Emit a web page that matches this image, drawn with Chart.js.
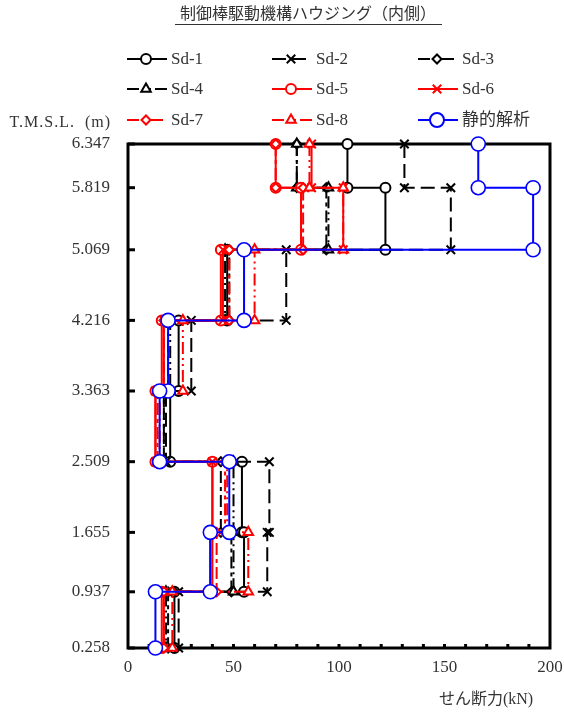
<!DOCTYPE html>
<html>
<head>
<meta charset="utf-8">
<style>
  body { margin: 0; background: #fff; }
  canvas { display: block; }
</style>
</head>
<body>
<canvas id="shearChart" width="564" height="713"></canvas>
<script src="https://cdn.jsdelivr.net/npm/chart.js"></script>
<script>
  // 節点標高 T.M.S.L.(m)
  const levels = [6.347, 5.819, 5.069, 4.216, 3.363, 2.509, 1.655, 0.937, 0.258];

  // 各要素のせん断力 (kN) 上の要素から順に
  const sd1 = [104, 122, 47, 24, 20, 54, 55, 22];
  const sd2 = [131, 153, 75, 30, 18, 67, 66, 24];
  const sd3 = [80, 94, 48, 19, 17, 44, 49, 19];
  const sd4 = [80, 95, 46, 20, 17, 50, 50, 18];
  const sd5 = [70, 82, 44, 16, 13, 40, 39, 16];
  const sd6 = [87, 102, 45, 17, 13, 40, 40, 17];
  const sd7 = [70, 83, 48, 17, 14, 46, 42, 17];
  const sd8 = [86, 102, 60, 26, 15, 47, 57, 21];
  const seisme = [166, 192, 55, 19, 15, 48, 39, 13];

  const seriesNames = ['Sd-1', 'Sd-2', 'Sd-3', 'Sd-4', 'Sd-5', 'Sd-6', 'Sd-7', 'Sd-8', '静的解析'];
  const seriesValues = [sd1, sd2, sd3, sd4, sd5, sd6, sd7, sd8, seisme];
  const xTicks = [0, 50, 100, 150, 200];

  const BLACK = '#000000', RED = '#ff0000', BLUE = '#0000ff';
  const styles = [
    { color: BLACK, point: 'circle',   r: 5,   dash: [] },
    { color: BLACK, point: 'crossRot', r: 6,   dash: [14, 6] },
    { color: BLACK, point: 'rectRot',  r: 4.5, dash: [12, 4, 4, 4] },
    { color: BLACK, point: 'triangle', r: 5.5, dash: [12, 4, 2, 4, 2, 4] },
    { color: RED,   point: 'circle',   r: 5,   dash: [] },
    { color: RED,   point: 'crossRot', r: 6,   dash: [] },
    { color: RED,   point: 'rectRot',  r: 4.5, dash: [12, 4, 4, 4] },
    { color: RED,   point: 'triangle', r: 5.5, dash: [12, 4, 2, 4, 2, 4] },
    { color: BLUE,  point: 'circle',   r: 7,   dash: [] }
  ];

  // 階段状の点列 (要素の上端・下端)
  function stepPoints(vals) {
    const pts = [];
    vals.forEach((v, i) => {
      pts.push({ x: v, y: levels[i] });
      pts.push({ x: v, y: levels[i + 1] });
    });
    return pts;
  }

  const datasets = seriesValues.map((vals, i) => ({
    label: seriesNames[i],
    data: stepPoints(vals),
    showLine: true,
    borderColor: styles[i].color,
    borderWidth: 2,
    borderDash: styles[i].dash,
    pointStyle: styles[i].point,
    pointRadius: styles[i].r,
    pointBorderColor: styles[i].color,
    pointBackgroundColor: '#ffffff',
    pointBorderWidth: i === 8 ? 1.6 : 2,
    clip: false,
    order: seriesValues.length - 1 - i
  }));

  const FONT = '"Liberation Serif", "Noto Sans CJK JP", serif';
  const TEXT = '#333333';

  function drawMarker(ctx, st, x, y) {
    ctx.save();
    ctx.setLineDash([]);
    ctx.strokeStyle = st.color;
    ctx.fillStyle = '#ffffff';
    ctx.lineWidth = 2;
    Chart.helpers.drawPoint(ctx, { pointStyle: st.point, radius: st.r, rotation: 0, borderWidth: 2 }, x, y);
    ctx.restore();
  }

  const decorations = {
    id: 'decorations',
    beforeDatasetsDraw(chart) {
      const { ctx, chartArea: a, scales } = chart;
      ctx.save();
      ctx.strokeStyle = '#000';
      ctx.lineWidth = 3;
      ctx.strokeRect(a.left, a.top, a.right - a.left, a.bottom - a.top);
      // 内向きの目盛
      levels.forEach(v => {
        const y = scales.y.getPixelForValue(v);
        ctx.beginPath();
        ctx.moveTo(a.left, y);
        ctx.lineTo(a.left + 7, y);
        ctx.stroke();
      });
      for (let v = 10; v < 200; v += 10) {
        const x = scales.x.getPixelForValue(v);
        ctx.beginPath();
        ctx.moveTo(x, a.bottom);
        ctx.lineTo(x, a.bottom - 4);
        ctx.stroke();
      }
      ctx.restore();
    },
    afterDraw(chart) {
      const { ctx } = chart;
      ctx.save();
      // タイトル
      ctx.fillStyle = TEXT;
      ctx.font = '16px ' + FONT;
      ctx.textAlign = 'center';
      ctx.textBaseline = 'middle';
      ctx.fillText('制御棒駆動機構ハウジング（内側）', 308, 15);
      ctx.strokeStyle = TEXT;
      ctx.lineWidth = 1;
      ctx.beginPath();
      ctx.moveTo(175, 24.5);
      ctx.lineTo(442, 24.5);
      ctx.stroke();

      // 凡例
      const colX = [127, 272, 418];
      const rowY = [59, 89, 120];
      ctx.font = '17px ' + FONT;
      ctx.textAlign = 'left';
      seriesNames.forEach((name, i) => {
        const st = styles[i];
        const x0 = colX[i % 3], y = rowY[Math.floor(i / 3)];
        ctx.save();
        ctx.strokeStyle = st.color;
        ctx.lineWidth = 2;
        ctx.setLineDash(st.dash);
        ctx.beginPath();
        ctx.moveTo(x0, y);
        ctx.lineTo(x0 + 40, y);
        ctx.stroke();
        ctx.restore();
        drawMarker(ctx, st, x0 + 19, y);
        ctx.fillStyle = TEXT;
        ctx.fillText(name, x0 + 44, y + 1);
      });

      // 軸タイトル
      ctx.font = '16px ' + FONT;
      ctx.textAlign = 'right';
      ctx.letterSpacing = '1px';
      ctx.fillText('T.M.S.L.  (m)', 111, 123);
      ctx.letterSpacing = '0px';
      ctx.textAlign = 'center';
      ctx.fillText('せん断力(kN)', 486, 700);
      ctx.restore();
    }
  };

  new Chart(document.getElementById('shearChart'), {
    type: 'scatter',
    data: { datasets },
    options: {
      responsive: false,
      animation: false,
      devicePixelRatio: 1,
      layout: { padding: { left: 0, right: 14, top: 144, bottom: 0 } },
      plugins: { legend: { display: false }, tooltip: { enabled: false } },
      scales: {
        x: {
          type: 'linear',
          min: 0,
          max: 200,
          afterFit(scale) {
            scale.height = 65;
            scale.paddingLeft = 0;
            scale.paddingRight = 0;
          },
          afterBuildTicks(scale) { scale.ticks = xTicks.map(v => ({ value: v })); },
          grid: { display: false, drawTicks: false },
          border: { display: false },
          ticks: { padding: 9, color: TEXT, font: { family: FONT, size: 17 } }
        },
        y: {
          type: 'linear',
          min: 0.258,
          max: 6.347,
          afterFit(scale) {
            scale.width = 128;
            scale.paddingTop = 0;
            scale.paddingBottom = 0;
          },
          afterBuildTicks(scale) { scale.ticks = levels.map(v => ({ value: v })); },
          grid: { display: false, drawTicks: false },
          border: { display: false },
          ticks: {
            padding: 18,
            color: TEXT,
            font: { family: FONT, size: 17 },
            callback: v => Number(v).toFixed(3)
          }
        }
      }
    },
    plugins: [decorations]
  });
</script>
</body>
</html>
